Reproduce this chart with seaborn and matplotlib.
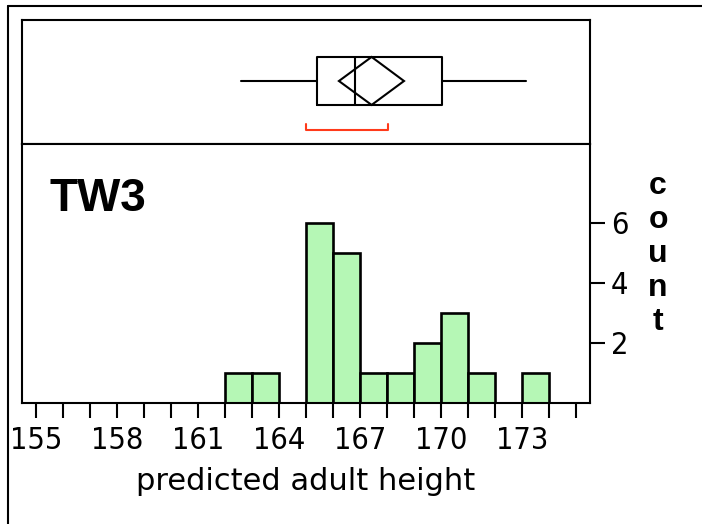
import numpy as np
import pandas as pd
import matplotlib
matplotlib.use("Agg")
import matplotlib.pyplot as plt
import seaborn as sns
from matplotlib.lines import Line2D
from matplotlib.patches import Polygon

# ---- data ----
bin_left = [162, 163, 165, 166, 167, 168, 169, 170, 171, 173]
counts = [1, 1, 6, 5, 1, 1, 2, 3, 1, 1]
x_ticks = [155, 158, 161, 164, 167, 170, 173]
y_ticks = [2, 4, 6]
box_stats = dict(whislo=162.6, q1=165.4, med=166.8, q3=170.05, whishi=173.15)
mean_val = 167.43
mean_ci = [166.22, 168.63]
shortest_half = [165.0, 168.05]
panel_label = "TW3"
x_label = "predicted adult height"
y_label = "count"

sns.set_style("white")
plt.rcParams['font.family'] = ['DejaVu Sans']
for k in ['text.color', 'axes.labelcolor', 'xtick.color', 'ytick.color']:
    plt.rcParams[k] = 'black'

W, H = 702, 524
fig = plt.figure(figsize=(W / 100, H / 100), dpi=100)
L, R = 22 / W, 590 / W
ax_box = fig.add_axes([L, 1 - 144 / H, R - L, (144 - 20) / H])
ax_h = fig.add_axes([L, 1 - 403 / H, R - L, (403 - 144) / H])

xlim = (154.48, 175.52)

# ---- histogram ----
df = pd.DataFrame({"height": [b + 0.5 for b in bin_left], "n": counts})
sns.histplot(data=df, x="height", weights="n", binwidth=1, binrange=(154, 176),
             ax=ax_h, color='#b5f7b5', edgecolor='black', linewidth=1.9, alpha=1)
ax_h.set_xlim(*xlim)
ax_h.set_ylim(0, 8.63)
ax_h.set_ylabel("")
ax_h.set_xticks(x_ticks)
ax_h.set_xticks(np.arange(155, 176), minor=True)
ax_h.tick_params(axis='x', which='both', direction='out', length=11, width=1.5,
                 bottom=True, labelsize=22, pad=5.5, color='black')
ax_h.yaxis.tick_right()
ax_h.set_yticks(y_ticks)
ax_h.tick_params(axis='y', which='both', direction='out', length=11, width=1.5,
                 right=True, left=False, labelsize=22, pad=4, color='black')
for lab in ax_h.get_xticklabels() + ax_h.get_yticklabels():
    lab.set_fontstretch('condensed')
for s in ax_h.spines.values():
    s.set_visible(True)
    s.set_color('black')
    s.set_linewidth(1.5)
ax_h.set_xlabel(x_label, fontsize=22, labelpad=9)

# ---- box plot panel ----
stats = [dict(box_stats, fliers=[])]
ax_box.bxp(stats, positions=[0.508], widths=0.387, orientation='horizontal',
           showcaps=False, showfliers=False, patch_artist=False,
           boxprops=dict(color='black', linewidth=1.5),
           whiskerprops=dict(color='black', linewidth=1.5),
           medianprops=dict(color='black', linewidth=1.5))
ax_box.add_patch(Polygon([(mean_ci[0], 0.508), (mean_val, 0.702),
                          (mean_ci[1], 0.508), (mean_val, 0.315)],
                         closed=True, fill=False, edgecolor='black', linewidth=1.5))
ax_box.plot([shortest_half[0], shortest_half[0], shortest_half[1], shortest_half[1]],
            [0.16, 0.113, 0.113, 0.16], color='#ff3a1a', linewidth=1.5)
ax_box.set_xlim(*xlim)
ax_box.set_ylim(0, 1)
ax_box.set_xticks([])
ax_box.set_yticks([])
for s in ax_box.spines.values():
    s.set_visible(True)
    s.set_color('black')
    s.set_linewidth(1.5)

# ---- outer frame ----
fig.add_artist(Line2D([8 / W, 8 / W], [0, 1 - 6 / H], transform=fig.transFigure,
                      color='black', linewidth=1.5))
fig.add_artist(Line2D([8 / W, 1], [1 - 6 / H, 1 - 6 / H], transform=fig.transFigure,
                      color='black', linewidth=1.5))

# ---- texts ----
fig.text(50 / W, 1 - 211 / H, panel_label, fontsize=33, fontweight='bold',
         family=['Liberation Sans', 'DejaVu Sans'], ha='left', va='baseline')
fig.text(658 / W, 1 - 254 / H, "\n".join(y_label), fontsize=23, fontweight='bold',
         family=['Liberation Sans', 'DejaVu Sans'], ha='center', va='center',
         multialignment='center', linespacing=1.17)

fig.savefig("out.png", dpi=100)
